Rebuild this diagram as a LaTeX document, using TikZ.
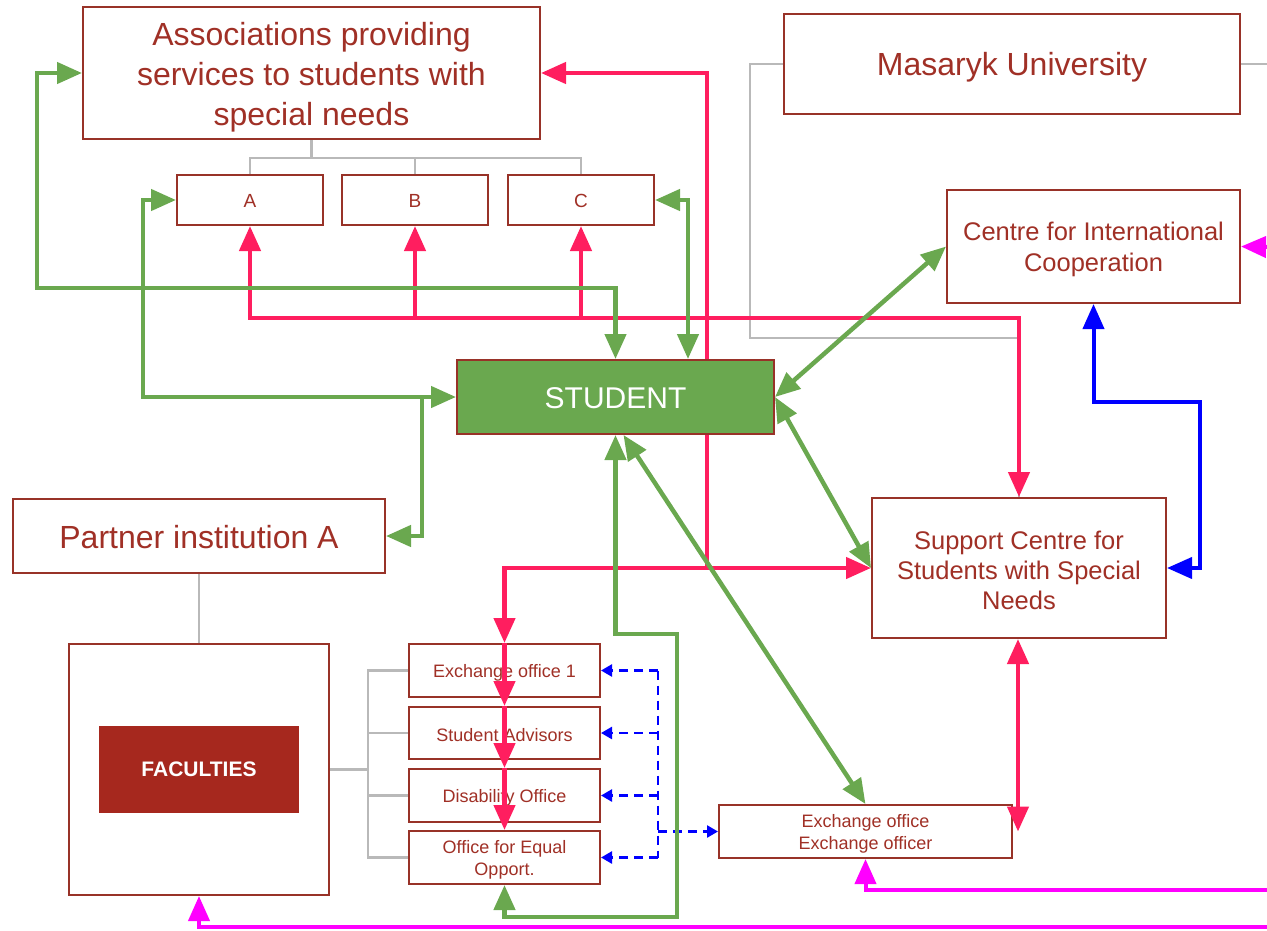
\documentclass[tikz,border=0pt]{standalone}
\usepackage{fontspec}
\setmainfont{Liberation Sans}
\usetikzlibrary{arrows.meta}
\definecolor{bord}{RGB}{152,50,40}
\definecolor{txt}{RGB}{160,48,38}
\definecolor{grn}{RGB}{106,168,79}
\definecolor{pnk}{RGB}{255,30,95}
\definecolor{mag}{RGB}{255,0,255}
\definecolor{blu}{RGB}{0,0,255}
\definecolor{gry}{RGB}{185,185,185}
\definecolor{facred}{RGB}{166,40,30}
\newcommand{\fsz}[2]{\fontsize{#1}{#2}\selectfont}
\begin{document}
\begin{tikzpicture}[x=1pt,y=-1pt,
  box/.style={draw=bord,line width=2pt,fill=white,inner sep=0pt},
  lab/.style={text=txt,align=center,inner sep=0pt},
  gline/.style={draw=gry,line width=2.5pt},
  conn/.style={line width=4.5pt,line join=miter,>={Triangle[length=25pt,width=21pt]}},
  pk/.style={conn,draw=pnk},
  gr/.style={conn,draw=grn},
  bl/.style={conn,line width=4pt,draw=blu},
  mg/.style={conn,line width=4pt,draw=mag},
  bd/.style={draw=blu,line width=2.5pt,dash pattern=on 9pt off 6pt,>={Triangle[length=11pt,width=12pt]}}
]
\useasboundingbox (0,0) rectangle (1267,930);

% helper coordinates
\coordinate (dv) at (658,0);
\coordinate (j1) at (422,397);
\coordinate (m1) at (1267,247);
\coordinate (m2) at (1267,890);
\coordinate (m3) at (1267,927);
\coordinate (rim) at (1267,64);

% nodes
\node[box,minimum width=457pt,minimum height=132pt,
  label={[lab,font=\fsz{32}{40},yshift=-4pt]center:{Associations providing\\services to students with\\special needs}}] (assoc) at (311.5,73) {};
\node[box,minimum width=146pt,minimum height=50pt,
  label={[lab,font=\fsz{19}{22},yshift=-1pt]center:A}] (A) at (250,200) {};
\node[box,minimum width=146pt,minimum height=50pt,
  label={[lab,font=\fsz{19}{22},yshift=-1pt]center:B}] (B) at (415,200) {};
\node[box,minimum width=146pt,minimum height=50pt,
  label={[lab,font=\fsz{19}{22},yshift=-1pt]center:C}] (C) at (581,200) {};
\node[box,minimum width=456pt,minimum height=100pt,
  label={[lab,font=\fsz{32}{40},yshift=-3pt]center:Masaryk University}] (mu) at (1012,64) {};
\node[box,minimum width=293pt,minimum height=113pt,
  label={[lab,font=\fsz{25.5}{30.5},yshift=-3pt]center:{Centre for International\\Cooperation}}] (cic) at (1093.5,246.5) {};
\node[box,fill=grn,minimum width=317pt,minimum height=74pt,
  label={[lab,text=white,font=\fsz{30}{36},yshift=-1pt]center:STUDENT}] (stud) at (615.5,397) {};
\node[box,minimum width=372pt,minimum height=74pt,
  label={[lab,font=\fsz{32}{40},yshift=-1pt]center:Partner institution A}] (partner) at (199,536) {};
\node[box,minimum width=294pt,minimum height=140pt,
  label={[lab,font=\fsz{25.5}{30},yshift=-2pt]center:{Support Centre for\\Students with Special\\Needs}}] (sc) at (1019,568) {};
\node[box,minimum width=260pt,minimum height=251pt] (fac) at (199,769.5) {};
\node[fill=facred,text=white,inner sep=0pt,minimum width=200pt,minimum height=87pt,font=\fsz{21}{24}\bfseries] (facin) at (199,769.5) {FACULTIES};
\node[box,minimum width=191pt,minimum height=53pt,
  label={[lab,font=\fsz{18}{22},yshift=-2pt]center:Exchange office 1}] (eo1) at (504.5,670.5) {};
\node[box,minimum width=191pt,minimum height=52pt,
  label={[lab,font=\fsz{18}{22},yshift=-2pt]center:Student Advisors}] (sa) at (504.5,733) {};
\node[box,minimum width=191pt,minimum height=53pt,
  label={[lab,font=\fsz{18}{22},yshift=-2pt]center:Disability Office}] (dis) at (504.5,795.5) {};
\node[box,minimum width=191pt,minimum height=53pt,
  label={[lab,font=\fsz{18}{22},yshift=-2pt]center:{Office for Equal\\Opport.}}] (eq) at (504.5,857.5) {};
\node[box,minimum width=293pt,minimum height=53pt,
  label={[lab,font=\fsz{18}{22},yshift=-2pt]center:{Exchange office\\Exchange officer}}] (exo) at (865.5,831.5) {};

% gray structure lines
\draw[gline] (assoc.south) -- (assoc.south |- 0,158);
\draw[gline] (A.north) -- (A.north |- 0,158) -- (C.north |- 0,158) -- (C.north);
\draw[gline] (B.north |- 0,158) -- (B.north);
\draw[gline] (mu.west) -- (mu.west -| 750,0) |- (sc.north |- 0,338) -- (sc.north);
\draw[gline] (mu.east) -- (rim);
\draw[gline] (partner.south) -- (fac.north);
\draw[gline] (fac.east) -- (fac.east -| 368,0);
\draw[gline] (eo1.west) -- (eo1.west -| 368,0) -- (eq.west -| 368,0) -- (eq.west);
\draw[gline] (sa.west -| 368,0) -- (sa.west);
\draw[gline] (dis.west -| 368,0) -- (dis.west);

% blue dashed
\draw[bd] (eo1.east -| dv) -- (eq.east -| dv);
\draw[bd,->] (eo1.east -| dv) -- (eo1.east);
\draw[bd,->] (sa.east -| dv) -- (sa.east);
\draw[bd,->] (dis.east -| dv) -- (dis.east);
\draw[bd,->] (eq.east -| dv) -- (eq.east);
\draw[bd,->] (exo.west -| dv) -- (exo.west);

% pink connectors
\draw[pk,<->] (A.south) |- (sc.north |- 0,318) -- (sc.north);
\draw[pk,->] (B.south |- 0,318) -- (B.south);
\draw[pk,->] (C.south |- 0,318) -- (C.south);
\draw[pk,->] (stud.north -| 707,0) |- (assoc.east);
\draw[pk,->] (stud.south -| 707,0) |- (sc.west);
\draw[pk,->] (sc.west -| 707,0) -| (eo1.north);
\draw[pk,->] (eo1.north) -- (sa.north);
\draw[pk,->] (sa.north) -- (dis.north);
\draw[pk,->] (dis.north) -- (eq.north);
\draw[pk,<->] (sc.south -| 1018,0) -- (exo.east -| 1018,0);

% green connectors
\draw[gr,<->] (assoc.west) -- (assoc.west -| 37,0) |- (stud.north |- 0,288) -- (stud.north);
\draw[gr,<->] (A.west) -- (A.west -| 143,0) |- (stud.west);
\draw[gr,->] (j1) |- (partner.east);
\draw[gr,<->] (C.east) -- (C.east -| 688,0) -- (stud.north -| 688,0);
\draw[gr,<->] (stud.east) -- (cic.west);
\draw[gr,<->] (stud.east) -- (sc.west);
\draw[gr,<->] (eq.south) |- (677,917) |- (stud.south |- 0,634) -- (stud.south);
\draw[gr,<->] ([xshift=8pt]stud.south) -- (exo.north);

% blue connector
\draw[bl,<->] (cic.south) |- (1200,402) |- (sc.east);

% magenta connectors
\draw[mg,->] (m1) -- (cic.east);
\draw[mg,->] (m2) -| (exo.south);
\draw[mg,->] (m3) -| (fac.south);
\end{tikzpicture}
\end{document}
